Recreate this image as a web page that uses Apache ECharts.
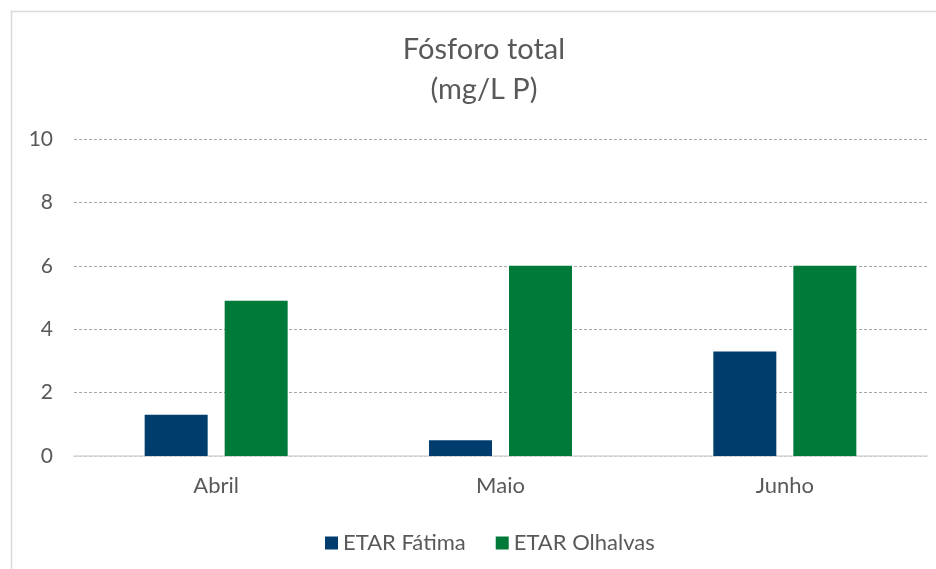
<!DOCTYPE html>
<html><head><meta charset="utf-8">
<script src="https://cdn.jsdelivr.net/npm/echarts@6/dist/echarts.min.js"></script>
<style>html,body{margin:0;padding:0;background:#fff}#c{width:936px;height:569px}</style>
</head><body><div id="c"></div>
<script>
const categories = ['Abril', 'Maio', 'Junho'];
const fatima = [1.3, 0.5, 3.3];
const olhalvas = [4.9, 6.0, 6.0];
const seriesNames = ['ETAR Fátima', 'ETAR Olhalvas'];
const titleLines = ['Fósforo total', '(mg/L P)'];

const chart = echarts.init(document.getElementById('c'), null, {renderer: 'canvas'});
const font = 'Lato, "Open Sans", sans-serif';
chart.setOption({
  animation: false,
  graphic: [
    {type: 'rect', shape: {x: 11.5, y: 11.5, width: 1000, height: 1000}, style: {fill: 'none', stroke: '#d9d9d9', lineWidth: 1.5}, silent: true},
    {type: 'text', x: 484, y: 50, style: {text: titleLines[0], font: '29px ' + font, fill: '#595959', textAlign: 'center', textVerticalAlign: 'middle'}, silent: true},
    {type: 'text', x: 484, y: 90, style: {text: titleLines[1], font: '29px ' + font, fill: '#595959', textAlign: 'center', textVerticalAlign: 'middle'}, silent: true}
  ],
  legend: {top: 527, left: 320, itemWidth: 13, itemHeight: 13, itemGap: 30, icon: 'rect', textStyle: {fontFamily: font, fontSize: 22, color: '#595959'}, data: seriesNames},
  grid: {left: 74, right: 9, top: 139, bottom: 113, containLabel: false},
  xAxis: {type: 'category', data: categories, axisLine: {lineStyle: {color: '#d9d9d9', width: 1.5}}, axisTick: {show: false}, axisLabel: {fontFamily: font, fontSize: 22, color: '#595959', margin: 19}},
  yAxis: {type: 'value', min: 0, max: 10, interval: 2, axisLine: {show: false}, axisTick: {show: false}, axisLabel: {fontFamily: font, fontSize: 21, color: '#595959', margin: 21}, splitLine: {lineStyle: {type: [3, 2], color: '#a6a6a6'}}},
  series: [
    {name: seriesNames[0], type: 'bar', data: fatima, barWidth: 63, barGap: '27%', itemStyle: {color: '#003D6E'}},
    {name: seriesNames[1], type: 'bar', data: olhalvas, barWidth: 63, itemStyle: {color: '#007A39'}}
  ]
});
</script></body></html>
